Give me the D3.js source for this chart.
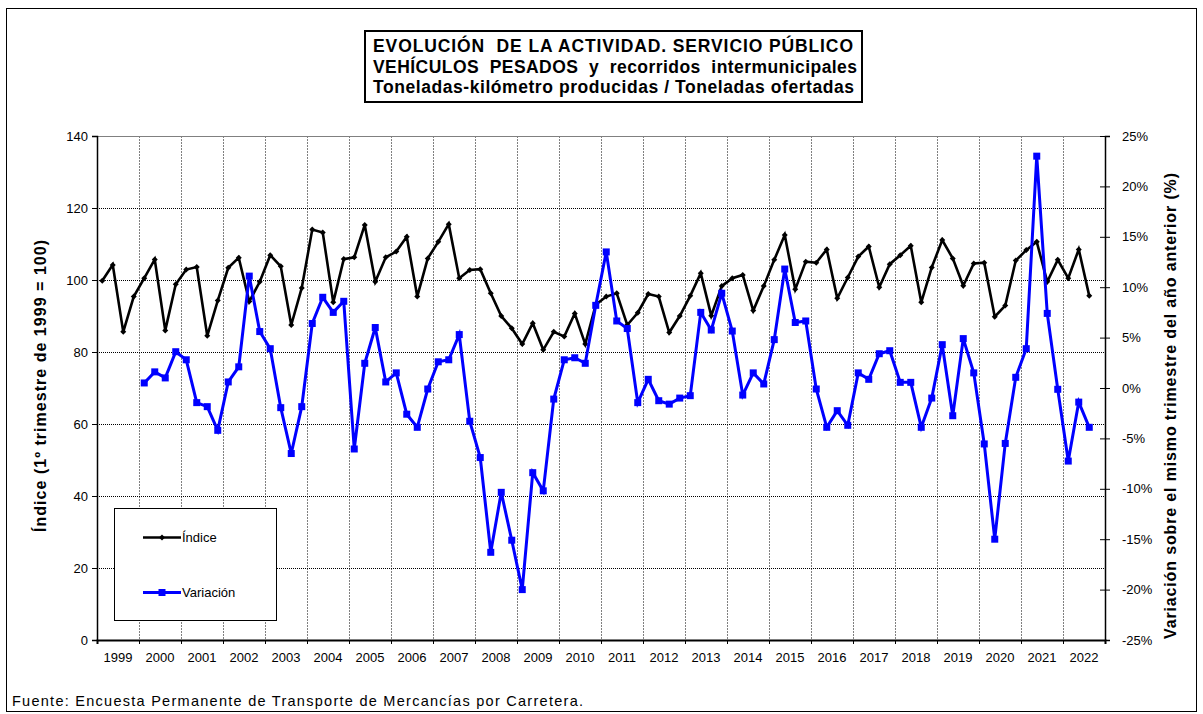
<!DOCTYPE html>
<html><head><meta charset="utf-8">
<script src="https://cdn.jsdelivr.net/npm/d3@7"></script>
<style>
body{margin:0;background:#fff;}
svg{display:block;font-family:"Liberation Sans",Arial,sans-serif;}
.pre{white-space:pre;}
</style></head>
<body><svg id="c" width="1203" height="714"></svg>
<script>
const years = d3.range(1999, 2023);
const quarters = ["T1","T2","T3","T4"];
const leftTicks = [0,20,40,60,80,100,120,140];
const rightTicks = [-25,-20,-15,-10,-5,0,5,10,15,20,25];
const titleLines = ["EVOLUCIÓN  DE LA ACTIVIDAD. SERVICIO PÚBLICO","VEHÍCULOS  PESADOS  y  recorridos  intermunicipales","Toneladas-kilómetro producidas / Toneladas ofertadas"];
const seriesNames = ["Índice","Variación"];
// Índice (1º trimestre de 1999 = 100), 1999T1 .. 2022T3
const indice = [
 99.8,104.2,85.6,95.4,
 100.5,105.7,86.0,98.8,
 102.9,103.6,84.5,94.3,
 103.4,106.2,94.0,99.5,
 106.9,103.8,87.5,97.8,
 114.0,113.2,93.8,105.8,
 106.3,115.3,99.5,106.3,
 107.9,112.0,95.4,106.0,
 110.6,115.5,100.5,102.8,
 103.0,96.3,90.0,86.6,
 82.2,88.0,80.6,85.6,
 84.3,90.7,82.2,93.1,
 95.4,96.3,87.5,90.9,
 96.1,95.4,85.4,90.0,
 95.6,101.9,90.1,98.3,
 100.5,101.4,91.5,98.3,
 105.6,112.5,97.4,105.1,
 104.8,108.5,94.9,100.7,
 106.5,109.3,98.0,104.4,
 106.9,109.5,93.8,103.5,
 111.1,106.0,98.4,104.6,
 104.8,89.8,92.9,105.4,
 108.3,110.6,99.5,105.6,
 100.5,108.5,95.6
];
// Variación sobre el mismo trimestre del año anterior (%)
const variacion = [
 null,null,null,null,
 0.5,1.6,1.0,3.6,
 2.8,-1.45,-1.85,-4.2,
 0.6,2.1,11.1,5.6,
 3.9,-1.95,-6.5,-1.85,
 6.4,9.0,7.5,8.6,
 -6.05,2.45,6.0,0.6,
 1.5,-2.6,-3.9,-0.1,
 2.6,2.8,5.3,-3.3,
 -6.9,-16.3,-10.35,-15.1,
 -20.0,-8.4,-10.2,-1.1,
 2.8,3.0,2.45,8.2,
 13.5,6.65,5.9,-1.45,
 0.86,-1.26,-1.6,-1.0,
 -0.76,7.5,5.75,9.4,
 5.65,-0.7,1.5,0.4,
 4.8,11.8,6.5,6.65,
 -0.1,-3.9,-2.25,-3.7,
 1.5,0.86,3.4,3.7,
 0.56,0.56,-3.9,-1.0,
 4.3,-2.75,4.9,1.5,
 -5.55,-15.0,-5.5,1.06,
 3.9,23.0,7.4,-0.13,
 -7.25,-1.4,-3.9
];

const svg = d3.select("#c");
const X0 = 97, X1 = 1105, Y0 = 136, Y1 = 640;
const xYear = d3.scaleLinear().domain([1999, 2023]).range([X0, X1]);
const cats = [];
years.forEach(y => quarters.forEach((q,i) => cats.push(y + "-" + q)));
const xBand = d3.scaleBand().domain(cats).range([X0, X1]);
const xc = i => xBand(cats[i]) + xBand.bandwidth()/2;
const yL = d3.scaleLinear().domain([0,140]).range([Y1, Y0]);
const yR = d3.scaleLinear().domain([-25,25]).range([Y1, Y0]);

// outer border
svg.append("rect").attr("x",6.5).attr("y",8.5).attr("width",1190).attr("height",703)
  .attr("fill","none").attr("stroke","#000").attr("stroke-width",1);

// vertical grid
svg.append("g").selectAll("line").data(years.slice(1)).join("line")
  .attr("x1",d=>Math.round(xYear(d))+0.5).attr("x2",d=>Math.round(xYear(d))+0.5)
  .attr("y1",Y0).attr("y2",Y1).attr("stroke","#808080").attr("stroke-width",1)
  .attr("stroke-dasharray","2,1");
// horizontal grid
svg.append("g").selectAll("line").data(leftTicks.slice(1,-1)).join("line")
  .attr("x1",X0).attr("x2",X1).attr("y1",d=>Math.round(yL(d))+0.5).attr("y2",d=>Math.round(yL(d))+0.5)
  .attr("stroke","#000").attr("stroke-width",1).attr("stroke-dasharray","1,1");
// top border
svg.append("line").attr("x1",X0).attr("x2",X1).attr("y1",Y0+0.5).attr("y2",Y0+0.5)
  .attr("stroke","#808080").attr("stroke-width",1);

// axes
const gL = svg.append("g").attr("transform",`translate(${X0},0)`)
  .call(d3.axisLeft(yL).tickValues(leftTicks).tickSize(5).tickPadding(4));
const gR = svg.append("g").attr("transform",`translate(${X1},0)`)
  .call(d3.axisRight(yR).tickValues(rightTicks).tickSize(5).tickPadding(12).tickFormat(d=>d+"%"));
gR.selectAll(".tick line").attr("x1",-5);
const gB = svg.append("g").attr("transform",`translate(0,${Y1})`)
  .call(d3.axisBottom(xYear).tickValues(d3.range(1999,2024)).tickSize(4).tickFormat(""));
[gL,gR,gB].forEach(g=>{
  g.select(".domain").attr("stroke","#000").attr("stroke-width",1.5);
  g.selectAll(".tick line").attr("stroke","#000");
  g.selectAll("text").attr("font-size",13).attr("fill","#000").attr("font-family","Liberation Sans, Arial, sans-serif");
});
gB.select(".domain").attr("stroke-width",2);
svg.append("g").selectAll("text").data(years).join("text")
  .attr("x",d=>xYear(d+0.5)).attr("y",662).attr("text-anchor","middle")
  .attr("font-size",13).text(d=>d);

// axis titles
svg.append("text").attr("transform","translate(46,386) rotate(-90)").attr("text-anchor","middle")
  .attr("font-size",16).attr("font-weight","bold").attr("textLength",292).attr("lengthAdjust","spacing")
  .text("Índice (1º trimestre de 1999 = 100)");
svg.append("text").attr("transform","translate(1176,406) rotate(-90)").attr("text-anchor","middle")
  .attr("font-size",16).attr("font-weight","bold").attr("textLength",466).attr("lengthAdjust","spacing")
  .text("Variación sobre el mismo trimestre del año anterior (%)");

// lines
const lineL = d3.line().defined(d=>d!=null).x((d,i)=>xc(i)).y(d=>yL(d));
const lineR = d3.line().defined(d=>d!=null).x((d,i)=>xc(i)).y(d=>yR(d));
svg.append("path").datum(indice).attr("d",lineL).attr("fill","none").attr("stroke","#000").attr("stroke-width",2.6).attr("stroke-linejoin","miter");
svg.append("g").selectAll("path").data(indice).join("path")
  .attr("transform",(d,i)=>`translate(${xc(i)},${yL(d)})`)
  .attr("d","M0,-3L3,0L0,3L-3,0Z").attr("fill","#000");
svg.append("path").datum(variacion).attr("d",lineR).attr("fill","none").attr("stroke","#0000ff").attr("stroke-width",3);
const vpts = variacion.map((v,i)=>({v,i})).filter(d=>d.v!=null);
svg.append("g").selectAll("rect").data(vpts).join("rect")
  .attr("x",d=>xc(d.i)-3.5).attr("y",d=>yR(d.v)-3.5).attr("width",7).attr("height",7).attr("fill","#0000ff");

// legend
const lg = svg.append("g");
lg.append("rect").attr("x",114.5).attr("y",508.5).attr("width",162).attr("height",112).attr("fill","#fff").attr("stroke","#000");
lg.append("line").attr("x1",143).attr("x2",181).attr("y1",537.5).attr("y2",537.5).attr("stroke","#000").attr("stroke-width",2.6);
lg.append("path").attr("transform","translate(162,537.5)").attr("d","M0,-3L3,0L0,3L-3,0Z");
lg.append("text").attr("x",182).attr("y",542).attr("font-size",13).text(seriesNames[0]);
lg.append("line").attr("x1",143).attr("x2",181).attr("y1",592.5).attr("y2",592.5).attr("stroke","#0000ff").attr("stroke-width",3);
lg.append("rect").attr("x",158.5).attr("y",589).attr("width",7).attr("height",7).attr("fill","#0000ff");
lg.append("text").attr("x",182).attr("y",597).attr("font-size",13).text(seriesNames[1]);

// title box
svg.append("rect").attr("x",365).attr("y",31).attr("width",497).attr("height",71).attr("fill","#fff").attr("stroke","#000").attr("stroke-width",2);
titleLines.forEach((t,i)=>{
  svg.append("text").attr("class","pre").attr("x",373).attr("y",52+i*20.6).attr("font-size",17.5).attr("font-weight","bold")
    .attr("textLength",[480,484,481][i]).attr("lengthAdjust","spacing").text(t);
});

// source
svg.append("text").attr("x",12).attr("y",706).attr("font-size",14.5)
  .attr("textLength",571).attr("lengthAdjust","spacing")
  .text("Fuente: Encuesta Permanente de Transporte de Mercancías por Carretera.");
</script></body></html>
